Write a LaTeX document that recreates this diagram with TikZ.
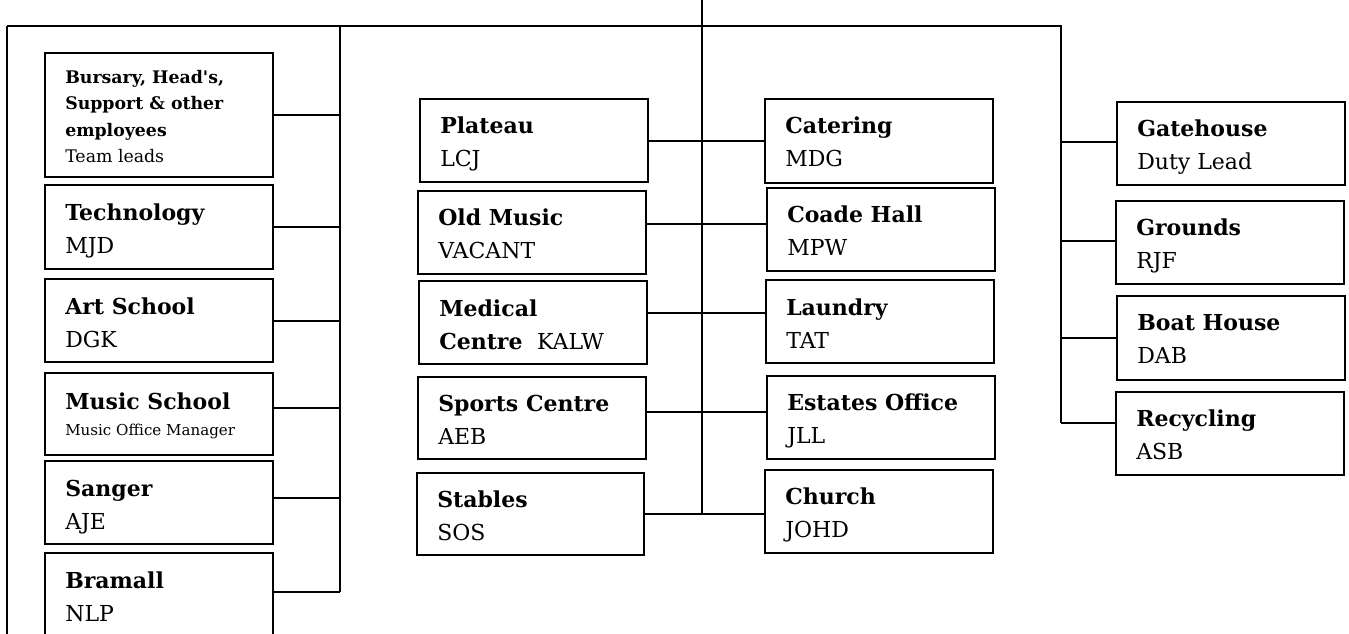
\documentclass[tikz,border=0pt]{standalone}
\usepackage{fontspec}
\setmainfont{DejaVu Serif}
\usetikzlibrary{calc}
\newcommand{\entry}[2]{\begin{tabular}[t]{@{}l@{}}\textbf{#1}\\#2\end{tabular}}
\begin{document}
\begin{tikzpicture}[x=0.75pt,y=-0.75pt,
  box/.style={draw, line width=1.5pt, anchor=north west, minimum width=171pt, minimum height=62.25pt, inner sep=0pt},
  lbl/.style={anchor=base west, inner sep=0pt, font=\fontsize{16.5pt}{24.75pt}\selectfont},
  conn/.style={line width=1.5pt}]
\useasboundingbox (0,0) rectangle (1349,633);
\clip (0,0) rectangle (1349,633);
% ---------- boxes ----------
% left column
\node[box, minimum height=93pt] (bursary) at (44,52) {};
\node[box, minimum height=63pt] (tech) at (44,184) {};
\node[box] (art) at (44,278) {};
\node[box, minimum height=61.5pt] (music) at (44,372) {};
\node[box] (sanger) at (44,460) {};
\node[box, minimum height=63pt] (bramall) at (44,552) {};
% middle left
\node[box] (plateau) at (419,98) {};
\node[box] (oldmusic) at (417,190) {};
\node[box] (medical) at (418,280) {};
\node[box, minimum height=61.5pt] (sports) at (417,376) {};
\node[box, minimum width=170.25pt, minimum height=61.5pt] (stables) at (416,472) {};
% middle right
\node[box, minimum height=63pt] (catering) at (764,98) {};
\node[box] (coade) at (766,187) {};
\node[box] (laundry) at (765,279) {};
\node[box] (estates) at (766,375) {};
\node[box] (church) at (764,469) {};
% right
\node[box] (gate) at (1116,101) {};
\node[box] (grounds) at (1115,200) {};
\node[box, minimum height=63pt] (boat) at (1116,295) {};
\node[box] (recycle) at (1115,391) {};
% ---------- texts ----------
\node[lbl, font=\fontsize{13pt}{19.9pt}\selectfont] (bursaryT) at ([shift={(21,31)}]bursary.north west)
  {\begin{tabular}[t]{@{}l@{}}\textbf{Bursary, Head\textquotesingle s,}\\\textbf{Support \& other}\\\textbf{employees}\\Team leads\end{tabular}};
\node[lbl] (techT) at ([shift={(21,36)}]tech.north west) {\entry{Technology}{MJD}};
\node[lbl] (artT) at ([shift={(21,36)}]art.north west) {\entry{Art School}{DGK}};
\node[lbl] (musicT) at ([shift={(21,37)}]music.north west)
  {\begin{tabular}[t]{@{}l@{}}\textbf{Music School}\\[-5.25pt]{\fontsize{11.3pt}{13pt}\selectfont Music Office Manager}\end{tabular}};
\node[lbl] (sangerT) at ([shift={(21,36)}]sanger.north west) {\entry{Sanger}{AJE}};
\node[lbl] (bramallT) at ([shift={(21,36)}]bramall.north west) {\entry{Bramall}{NLP}};
\node[lbl] (plateauT) at ([shift={(21,35)}]plateau.north west) {\entry{Plateau}{LCJ}};
\node[lbl] (oldmusicT) at ([shift={(21,35)}]oldmusic.north west) {\entry{Old Music}{VACANT}};
\node[lbl] (medicalT) at ([shift={(21,36)}]medical.north west) {\entry{Medical}{\textbf{Centre}\hspace{11pt}KALW}};
\node[lbl] (sportsT) at ([shift={(21,35)}]sports.north west) {\entry{Sports Centre}{AEB}};
\node[lbl] (stablesT) at ([shift={(21,35)}]stables.north west) {\entry{Stables}{SOS}};
\node[lbl] (cateringT) at ([shift={(21,35)}]catering.north west) {\entry{Catering}{MDG}};
\node[lbl] (coadeT) at ([shift={(21,35)}]coade.north west) {\entry{Coade Hall}{MPW}};
\node[lbl] (laundryT) at ([shift={(21,36)}]laundry.north west) {\entry{Laundry}{TAT}};
\node[lbl] (estatesT) at ([shift={(21,35)}]estates.north west) {\entry{Estates Office}{JLL}};
\node[lbl] (churchT) at ([shift={(21,35)}]church.north west) {\entry{Church}{JOHD}};
\node[lbl] (gateT) at ([shift={(21,35)}]gate.north west) {\entry{Gatehouse}{Duty Lead}};
\node[lbl] (groundsT) at ([shift={(21,35)}]grounds.north west) {\entry{Grounds}{RJF}};
\node[lbl] (boatT) at ([shift={(21,35)}]boat.north west) {\entry{Boat House}{DAB}};
\node[lbl] (recycleT) at ([shift={(21,35)}]recycle.north west) {\entry{Recycling}{ASB}};
% ---------- connectors ----------
\coordinate (root) at (702,0);
\coordinate (tl) at (7,26);
\coordinate (tr) at (1061,26);
\coordinate (lb) at (340,26);
\coordinate (lend) at (7,640);
\draw[conn] (tl) -- ([xshift=0.6pt]tr);
\draw[conn] (tl) -- (lend);
\draw[conn] (root) -- (root |- stables.east);
% left branch
\draw[conn] (lb) -- ([yshift=2.25pt]lb |- bramall.east);
\draw[conn] (bursary.east) -- (bursary.east -| lb);
\draw[conn] (tech.east) -- (tech.east -| lb);
\draw[conn] (art.east) -- (art.east -| lb);
\draw[conn] ([yshift=4.5pt]music.east) -- ([yshift=4.5pt]music.east -| lb);
\draw[conn] ([yshift=3.4pt]sanger.east) -- ([yshift=3.4pt]sanger.east -| lb);
\draw[conn] ([yshift=2.25pt]bramall.east) -- ([yshift=2.25pt]bramall.east -| lb);
% middle
\draw[conn] (plateau.east) -- (plateau.east -| catering.west);
\draw[conn] ([yshift=6.4pt]oldmusic.east) -- ([yshift=6.4pt]oldmusic.east -| coade.west);
\draw[conn] ([yshift=7.1pt]medical.east) -- ([yshift=7.1pt]medical.east -| laundry.west);
\draw[conn] ([yshift=4.5pt]sports.east) -- ([yshift=4.5pt]sports.east -| estates.west);
\draw[conn] (stables.east) -- (stables.east -| church.west);
% right branch
\draw[conn] (tr) -- ([yshift=7.9pt]tr |- recycle.west);
\draw[conn] ([yshift=1pt]gate.west) -- ([yshift=1pt]gate.west -| tr);
\draw[conn] ([yshift=1pt]grounds.west) -- ([yshift=1pt]grounds.west -| tr);
\draw[conn] (boat.west) -- (boat.west -| tr);
\draw[conn] ([yshift=7.9pt]recycle.west) -- ([yshift=7.9pt]recycle.west -| tr);
\end{tikzpicture}
\end{document}
